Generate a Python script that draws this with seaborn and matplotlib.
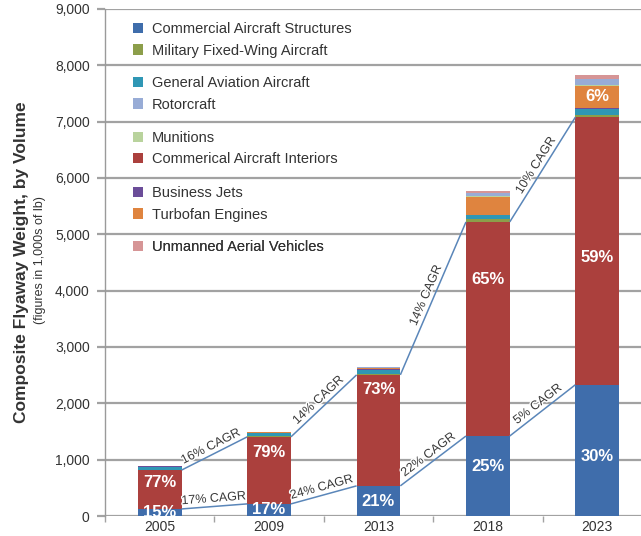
import numpy as np
import pandas as pd
import seaborn as sns
import matplotlib
matplotlib.use("Agg")
import matplotlib.pyplot as plt
from matplotlib.patches import Patch
import matplotlib.patheffects as pe

# ---------------- data (1,000s of lb) ----------------
years = ["2005", "2009", "2013", "2018", "2023"]
structures = [125, 215, 535, 1420, 2330]
interiors = [690, 1190, 1970, 3800, 4750]
military = [5, 10, 20, 50, 40]
general_aviation = [55, 55, 75, 70, 110]
business_jets = [5, 5, 5, 10, 10]
turbofan = [5, 10, 25, 320, 400]
munitions = [0, 0, 5, 10, 10]
rotorcraft = [5, 5, 10, 45, 100]
uav = [0, 5, 5, 45, 80]

structures_pct = ["15%", "17%", "21%", "25%", "30%"]
interiors_pct = ["77%", "79%", "73%", "65%", "59%"]
turbofan_pct = ["", "", "", "", "6%"]
upper_cagr = ["16% CAGR", "14% CAGR", "14% CAGR", "10% CAGR"]
lower_cagr = ["17% CAGR", "24% CAGR", "22% CAGR", "5% CAGR"]

y_ticks = [0, 1000, 2000, 3000, 4000, 5000, 6000, 7000, 8000, 9000]

# label placement (layout only)
structures_label_y = [71, 107, 249, 870, 1048]
interiors_label_y = [586, 1119, 2238, 4192, 4583]

layer_names = ["Commercial Aircraft Structures", "Commerical Aircraft Interiors",
               "Military Fixed-Wing Aircraft", "General Aviation Aircraft",
               "Business Jets", "Turbofan Engines", "Munitions", "Rotorcraft",
               "Unmanned Aerial Vehicles"]
layers = [structures, interiors, military, general_aviation, business_jets,
          turbofan, munitions, rotorcraft, uav]
colors = {
    "Commercial Aircraft Structures": "#3f6dab",
    "Commerical Aircraft Interiors": "#ab403d",
    "Military Fixed-Wing Aircraft": "#8c9e4a",
    "General Aviation Aircraft": "#2f97b5",
    "Business Jets": "#6b4d99",
    "Turbofan Engines": "#df843f",
    "Munitions": "#b9d39d",
    "Rotorcraft": "#98acd6",
    "Unmanned Aerial Vehicles": "#d69596",
}

sns.set_style("white")
plt.rcParams["font.family"] = ["Liberation Sans", "DejaVu Sans"]

fig = plt.figure(figsize=(6.41, 5.36), dpi=100)
W, H = 641, 536
ax_left, ax_right, ax_top, ax_bottom = 105, 641, 9, 516
ax = fig.add_axes([ax_left / W, 1 - ax_bottom / H,
                   (ax_right - ax_left) / W, (ax_bottom - ax_top) / H])

df = pd.DataFrame({"year": years})
cum = np.cumsum(np.array(layers, dtype=float), axis=0)
for k in reversed(range(len(layers))):
    df["v"] = cum[k]
    sns.barplot(data=df, x="year", y="v", order=years, color=colors[layer_names[k]],
                width=0.4, saturation=1, linewidth=0, errorbar=None, ax=ax, zorder=3)

ax.set_xlim(-0.5, 4.40)
ax.set_ylim(0, 9000)
ax.set_xlabel("")
ax.set_ylabel("")

grid_c = "#a2a2a2"
ax.set_yticks(y_ticks)
ax.set_yticklabels([f"{t:,}" for t in y_ticks])
ax.yaxis.grid(True, color=grid_c, lw=1.6, zorder=0)
ax.xaxis.grid(False)
ax.set_axisbelow(True)
ax.tick_params(axis="y", length=6, width=1.6, color=grid_c, direction="out",
               pad=5, labelsize=10, labelcolor="#333333", left=True)
ax.tick_params(axis="x", which="major", length=0, pad=3, labelsize=10, labelcolor="#333333")
ax.set_xticks([-0.5, 0.5, 1.5, 2.5, 3.5], minor=True)
ax.tick_params(axis="x", which="minor", length=4, width=1, color=grid_c, direction="out",
               bottom=True)
for s in ["top", "right", "bottom"]:
    ax.spines[s].set_visible(False)
ax.spines["left"].set_color("#9a9a9a")
ax.spines["left"].set_linewidth(1.0)

# percentage labels
x = np.arange(len(years))
for i in range(len(years)):
    ax.text(x[i], structures_label_y[i], structures_pct[i], color="white", fontsize=12,
            fontweight="bold", ha="center", va="center", zorder=5)
    ax.text(x[i], interiors_label_y[i], interiors_pct[i], color="white", fontsize=12,
            fontweight="bold", ha="center", va="center", zorder=5)
    if turbofan_pct[i]:
        y0 = cum[4][i]
        ax.text(x[i], y0 + turbofan[i] / 2, turbofan_pct[i], color="white", fontsize=12,
                fontweight="bold", ha="center", va="center", zorder=5)

# CAGR connector lines
red_top = cum[1]
blue_top = cum[0]
line_c = "#5a86b9"
half = 0.2


def connect(tops, labels):
    for i in range(len(years) - 1):
        xs = [x[i] + half, x[i + 1] - half]
        ys = [tops[i], tops[i + 1]]
        ax.plot(xs, ys, color=line_c, lw=1.1, zorder=4, solid_capstyle="butt")
        p = ax.transData.transform(np.column_stack([xs, ys]))
        ang = np.degrees(np.arctan2(p[1, 1] - p[0, 1], p[1, 0] - p[0, 0]))
        th = np.radians(ang)
        off = 5.5
        ax.annotate(labels[i], xy=(np.mean(xs), np.mean(ys)),
                    xytext=(-off * np.sin(th), off * np.cos(th)), textcoords="offset points",
                    rotation=ang, rotation_mode="anchor", ha="center", va="center",
                    fontsize=9, color="#3a3a3a", zorder=6,
                    path_effects=[pe.withStroke(linewidth=2, foreground="white")])


connect(red_top, upper_cagr)
connect(blue_top, lower_cagr)

# legends in pairs
groups = [["Commercial Aircraft Structures", "Military Fixed-Wing Aircraft"],
          ["General Aviation Aircraft", "Rotorcraft"],
          ["Munitions", "Commerical Aircraft Interiors"],
          ["Business Jets", "Turbofan Engines"],
          ["Unmanned Aerial Vehicles"]]
centers = [40, 94, 148.5, 204, 247]
for g, cy in zip(groups, centers):
    handles = [Patch(facecolor=colors[n], edgecolor="none") for n in g]
    leg = ax.legend(handles, g, loc="center left", bbox_to_anchor=(133 / W, 1 - cy / H),
                    bbox_transform=fig.transFigure, frameon=False, fontsize=10.5,
                    handlelength=0.7, handleheight=0.7, handletextpad=0.6,
                    labelspacing=0.5, borderpad=0, borderaxespad=0,
                    labelcolor="#333333")
    ax.add_artist(leg)

fig.text(22 / W, 0.51, "Composite Flyaway Weight, by Volume", rotation=90,
         ha="center", va="center", fontsize=12.5, fontweight="bold", color="#333333")
fig.text(40 / W, 0.515, "(figures in 1,000s of lb)", rotation=90,
         ha="center", va="center", fontsize=9, color="#333333")

fig.savefig("out.png", dpi=100)
